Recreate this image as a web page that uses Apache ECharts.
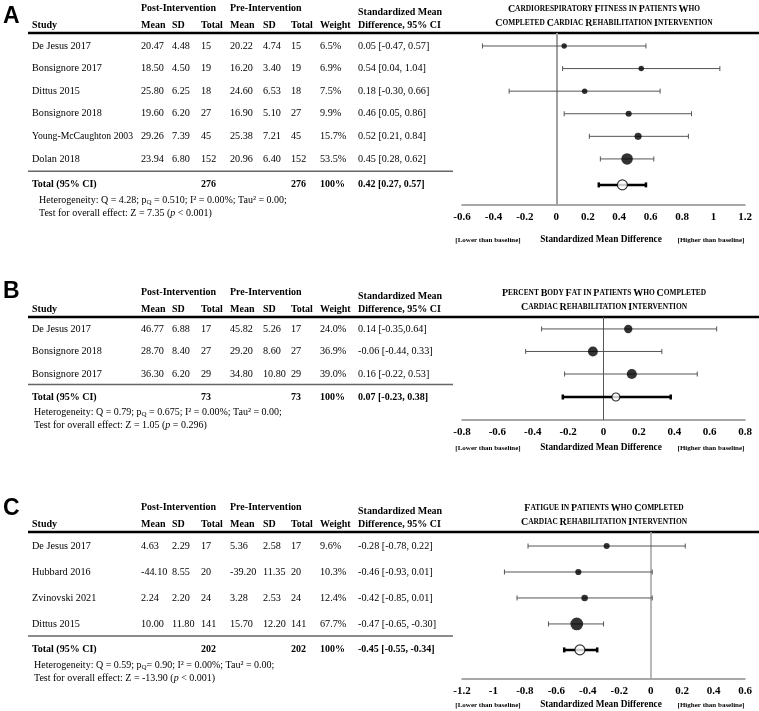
<!DOCTYPE html>
<html><head><meta charset="utf-8">
<script src="https://cdn.jsdelivr.net/npm/echarts@6/dist/echarts.min.js"></script>
<style>html,body{margin:0;padding:0;background:#fff}#c{width:759px;height:711px}</style>
</head><body><div id="c"></div>
<script>
// ---------- Panel A: Cardiorespiratory fitness ----------
const studiesA = ["De Jesus 2017","Bonsignore 2017","Dittus 2015","Bonsignore 2018","Young-McCaughton 2003","Dolan 2018"];
const postMeanA = [20.47,18.50,25.80,19.60,29.26,23.94];
const postSdA = [4.48,4.50,6.25,6.20,7.39,6.80];
const postNA = [15,19,18,27,45,152];
const preMeanA = [20.22,16.20,24.60,16.90,25.38,20.96];
const preSdA = [4.74,3.40,6.53,5.10,7.21,6.40];
const preNA = [15,19,18,27,45,152];
const weightA = [6.5,6.9,7.5,9.9,15.7,53.5];
const smdA = [0.05,0.54,0.18,0.46,0.52,0.45];
const lowA = [-0.47,0.04,-0.30,0.05,0.21,0.28];
const highA = [0.57,1.04,0.66,0.86,0.84,0.62];
const ciTextA = ["0.05 [-0.47, 0.57]","0.54 [0.04, 1.04]","0.18 [-0.30, 0.66]","0.46 [0.05, 0.86]","0.52 [0.21, 0.84]","0.45 [0.28, 0.62]"];
const totalA = [0.42,0.27,0.57];
const totalNA = [276,276];
const totalTextA = "0.42 [0.27, 0.57]";
const hetA = ["4.28","0.510","0.00%","0.00"];
const testA = ["7.35","<","0.001"];
const titleA = ["Cardiorespiratory Fitness in Patients Who","Completed Cardiac Rehabilitation Intervention"];
const ticksA = [-0.6,1.2];

// ---------- Panel B: Percent body fat ----------
const studiesB = ["De Jesus 2017","Bonsignore 2018","Bonsignore 2017"];
const postMeanB = [46.77,28.70,36.30];
const postSdB = [6.88,8.40,6.20];
const postNB = [17,27,29];
const preMeanB = [45.82,29.20,34.80];
const preSdB = [5.26,8.60,10.80];
const preNB = [17,27,29];
const weightB = [24.0,36.9,39.0];
const smdB = [0.14,-0.06,0.16];
const lowB = [-0.35,-0.44,-0.22];
const highB = [0.64,0.33,0.53];
const ciTextB = ["0.14 [-0.35,0.64]","-0.06 [-0.44, 0.33]","0.16 [-0.22, 0.53]"];
const totalB = [0.07,-0.23,0.38];
const totalNB = [73,73];
const totalTextB = "0.07 [-0.23, 0.38]";
const hetB = ["0.79","0.675","0.00%","0.00"];
const testB = ["1.05","=","0.296"];
const titleB = ["Percent Body Fat in Patients Who Completed","Cardiac Rehabilitation Intervention"];
const ticksB = [-0.8,0.8];

// ---------- Panel C: Fatigue ----------
const studiesC = ["De Jesus 2017","Hubbard 2016","Zvinovski 2021","Dittus 2015"];
const postMeanC = [4.63,-44.10,2.24,10.00];
const postSdC = [2.29,8.55,2.20,11.80];
const postNC = [17,20,24,141];
const preMeanC = [5.36,-39.20,3.28,15.70];
const preSdC = [2.58,11.35,2.53,12.20];
const preNC = [17,20,24,141];
const weightC = [9.6,10.3,12.4,67.7];
const smdC = [-0.28,-0.46,-0.42,-0.47];
const lowC = [-0.78,-0.93,-0.85,-0.65];
const highC = [0.22,0.01,0.01,-0.30];
const ciTextC = ["-0.28 [-0.78, 0.22]","-0.46 [-0.93, 0.01]","-0.42 [-0.85, 0.01]","-0.47 [-0.65, -0.30]"];
const totalC = [-0.45,-0.55,-0.34];
const totalNC = [202,202];
const totalTextC = "-0.45 [-0.55, -0.34]";
const hetC = ["0.59","0.90","0.00%","0.00"];
const testC = ["-13.90","<","0.001"];
const titleC = ["Fatigue in Patients Who Completed","Cardiac Rehabilitation Intervention"];
const ticksC = [-1.2,0.6];

// ---------- layout ----------
const SERIF = '"Liberation Serif","Times New Roman",serif';
const SANS = '"Liberation Sans",Arial,sans-serif';
const panels = [
  {letter:'A', letterY:17, top:33, axisY:205, yMin:-0.575, yMax:7.04, totY:6.15, sepY:5.55, zc:'#a0a0a0', zw:2, hetX:39, capOff:35, totSize:10,
   studies:studiesA, pm:postMeanA, ps:postSdA, pn:postNA, qm:preMeanA, qs:preSdA, qn:preNA, w:weightA, smd:smdA, lo:lowA, hi:highA, ci:ciTextA, tot:totalA, tn:totalNA, tt:totalTextA, het:hetA, test:testA, title:titleA, ticks:ticksA},
  {letter:'B', letterY:292, top:317, axisY:420, yMin:-0.53, yMax:4.04, totY:3.02, sepY:2.46, zc:'#555', zw:1, hetX:34, capOff:28, totSize:8,
   studies:studiesB, pm:postMeanB, ps:postSdB, pn:postNB, qm:preMeanB, qs:preSdB, qn:preNB, w:weightB, smd:smdB, lo:lowB, hi:highB, ci:ciTextB, tot:totalB, tn:totalNB, tt:totalTextB, het:hetB, test:testB, title:titleB, ticks:ticksB},
  {letter:'C', letterY:509, top:532, axisY:679, yMin:-0.54, yMax:5.12, totY:4.0, sepY:3.46, zc:'#a0a0a0', zw:1.5, hetX:34, capOff:26, totSize:10,
   studies:studiesC, pm:postMeanC, ps:postSdC, pn:postNC, qm:preMeanC, qs:preSdC, qn:preNC, w:weightC, smd:smdC, lo:lowC, hi:highC, ci:ciTextC, tot:totalC, tn:totalNC, tt:totalTextC, het:hetC, test:testC, title:titleC, ticks:ticksC}
];
const colX = [32,141,172,201,230,263,291,320,358];
const GL = 462, GW = 283;
const BODY = 10.2, HEAD = 10;

function ciRender(lw, color, cap) {
  return function (params, api) {
    const y = api.value(2);
    const p1 = api.coord([api.value(0), y]);
    const p2 = api.coord([api.value(1), y]);
    const st = {stroke: color, lineWidth: lw};
    return {type:'group', children:[
      {type:'line', shape:{x1:p1[0],y1:p1[1],x2:p2[0],y2:p2[1]}, style:st},
      {type:'line', shape:{x1:p1[0],y1:p1[1]-cap,x2:p1[0],y2:p1[1]+cap}, style:st},
      {type:'line', shape:{x1:p2[0],y1:p2[1]-cap,x2:p2[0],y2:p2[1]+cap}, style:st}
    ]};
  };
}

const grids = [], xAxes = [], yAxes = [], series = [];
panels.forEach((p, i) => {
  grids.push({left:GL, width:GW, top:p.top, height:p.axisY - p.top});
  xAxes.push({gridIndex:i, type:'value', min:p.ticks[0], max:p.ticks[1], interval:0.2,
    axisLine:{show:true, onZero:false, lineStyle:{color:'#8a8a8a', width:1.5}},
    axisTick:{show:false}, splitLine:{show:false},
    axisLabel:{fontFamily:SERIF, fontWeight:'bold', fontSize:11, color:'#000', margin:7, showMinLabel:true, showMaxLabel:true, hideOverlap:false,
      formatter: v => String(Math.round(v*10)/10)}});
  yAxes.push({gridIndex:i, type:'value', min:p.yMin, max:p.yMax, inverse:true, show:false});
  series.push({type:'custom', xAxisIndex:i, yAxisIndex:i, renderItem:ciRender(1,'#555',2.5), encode:{x:[0,1], y:2}, z:3,
    data:p.studies.map((s,k)=>[p.lo[k], p.hi[k], k]), silent:true});
  series.push({type:'custom', xAxisIndex:i, yAxisIndex:i, renderItem:ciRender(2.5,'#000',2.5), encode:{x:[0,1], y:2}, z:3,
    data:[[p.tot[1], p.tot[2], p.totY]], silent:true});
  series.push({type:'scatter', xAxisIndex:i, yAxisIndex:i, z:4, silent:true,
    symbolSize: v => 2 + Math.sqrt(v[2]) * 1.3,
    itemStyle:{color:'#000'},
    data:p.studies.map((s,k)=>[p.smd[k], k, p.w[k]]),
    markLine:{silent:true, symbol:'none', label:{show:false}, z:1,
      lineStyle:{color:p.zc, width:p.zw, type:'solid'}, data:[{xAxis:0}]}});
  series.push({type:'scatter', xAxisIndex:i, yAxisIndex:i, z:5, silent:true, symbolSize:p.totSize,
    itemStyle:{color:'#fff', borderColor:'#000', borderWidth:1.2},
    data:[[p.tot[0], p.totY]]});
});

const chart = echarts.init(document.getElementById('c'), null, {renderer:'canvas'});
chart.setOption({animation:false, backgroundColor:'#fff', grid:grids, xAxis:xAxes, yAxis:yAxes, series:series});

// ---------- text (positions from the y axes) ----------
const mctx = document.createElement('canvas').getContext('2d');
function fitSize(text, size, maxW) {
  mctx.font = size + 'px ' + SERIF;
  const w = mctx.measureText(text).width;
  return w > maxW ? size * maxW / w : size;
}
function smallCaps(str) {
  let out = '', cur = null, buf = '';
  for (const ch of str) {
    const cls = (ch >= 'A' && ch <= 'Z') ? 'c' : 's';
    const t = cls === 's' ? ch.toUpperCase() : ch;
    if (cls !== cur) { if (buf) out += '{' + cur + '|' + buf + '}'; cur = cls; buf = t; }
    else buf += t;
  }
  if (buf) out += '{' + cur + '|' + buf + '}';
  return out;
}
const g = [];
function T(x, y, text, o) {
  o = o || {};
  g.push({type:'text', x:x, y:y, silent:true, style:Object.assign({text:text, fill:'#000', font:(o.bold?'bold ':'') + (o.size||BODY) + 'px ' + SERIF,
    align:o.align||'left', verticalAlign:'middle'}, o.style||{})});
}
function L(x1, y1, x2, y2, w, c) {
  g.push({type:'line', silent:true, shape:{x1:x1,y1:y1,x2:x2,y2:y2}, style:{stroke:c, lineWidth:w}});
}
const f2 = v => v.toFixed(2);
panels.forEach((p, i) => {
  const yOf = v => chart.convertToPixel({gridIndex:i}, [0, v])[1];
  const top = p.top;
  g.push({type:'text', x:3, y:p.letterY, silent:true, style:{text:p.letter, fill:'#000', font:'bold 23px ' + SANS, align:'left', verticalAlign:'middle'}});
  // headers
  T(colX[1], top-25, 'Post-Intervention', {bold:true, size:HEAD});
  T(colX[4], top-25, 'Pre-Intervention', {bold:true, size:HEAD});
  T(colX[8], top-21, 'Standardized Mean', {bold:true, size:HEAD});
  ['Study','Mean','SD','Total','Mean','SD','Total','Weight','Difference, 95% CI'].forEach((h, k) => T(colX[k], top-8, h, {bold:true, size:HEAD}));
  L(28, top, 759, top, 2.5, '#000');
  // title
  const rich = {c:{fontFamily:SERIF, fontWeight:'bold', fontSize:10, fill:'#000'}, s:{fontFamily:SERIF, fontWeight:'bold', fontSize:7.4, fill:'#000'}};
  p.title.forEach((t, k) => g.push({type:'text', x:604, y:top-24+k*14, silent:true,
    style:{text:smallCaps(t), rich:rich, align:'center', verticalAlign:'middle'}}));
  // rows
  p.studies.forEach((s, k) => {
    const y = yOf(k);
    const vals = [s, f2(p.pm[k]), f2(p.ps[k]), String(p.pn[k]), f2(p.qm[k]), f2(p.qs[k]), String(p.qn[k]), p.w[k].toFixed(1)+'%', p.ci[k]];
    vals.forEach((v, c) => T(colX[c], y, v, {size: c === 0 ? fitSize(v, BODY, 101) : BODY}));
  });
  L(28, yOf(p.sepY), 453, yOf(p.sepY), 1.5, '#666');
  const ty = yOf(p.totY);
  T(colX[0], ty, 'Total (95% CI)', {bold:true, size:HEAD});
  T(colX[3], ty, String(p.tn[0]), {bold:true, size:HEAD});
  T(colX[6], ty, String(p.tn[1]), {bold:true, size:HEAD});
  T(colX[7], ty, '100%', {bold:true, size:HEAD});
  T(colX[8], ty, p.tt, {bold:true, size:HEAD});
  const nr = {n:{fontFamily:SERIF, fontSize:10, fill:'#000'}, sub:{fontFamily:SERIF, fontSize:7, fill:'#000', padding:[5,0,0,0]}, it:{fontFamily:SERIF, fontSize:10, fontStyle:'italic', fill:'#000'}};
  const h = p.het;
  const qEq = p.letter === 'C' ? '= ' : ' = ';
  g.push({type:'text', x:p.hetX, y:ty+15, silent:true, style:{text:
    '{n|Heterogeneity: Q = ' + h[0] + '; p}{sub|Q}{n|' + qEq + h[1] + '; I² = ' + h[2] + '; Tau² = ' + h[3] + ';}', rich:nr, align:'left', verticalAlign:'middle'}});
  g.push({type:'text', x:p.hetX, y:ty+28, silent:true, style:{text:
    '{n|Test for overall effect: Z = ' + p.test[0] + ' (}{it|p}{n| ' + p.test[1] + ' ' + p.test[2] + ')}', rich:nr, align:'left', verticalAlign:'middle'}});
  // axis captions
  const cy = p.axisY + p.capOff;
  T(488, cy, '[Lower than baseline]', {bold:true, size:7, align:'center'});
  T(601, cy, 'Standardized Mean Difference', {bold:true, size:9.3, align:'center'});
  T(711, cy, '[Higher than baseline]', {bold:true, size:7, align:'center'});
});
chart.setOption({graphic:{elements:g}});
</script></body></html>
